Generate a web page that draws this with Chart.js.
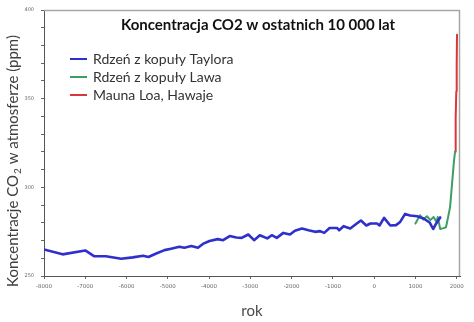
<!DOCTYPE html>
<html>
<head>
<meta charset="utf-8">
<script src="https://cdn.jsdelivr.net/npm/chart.js@4.4.1/dist/chart.umd.min.js"></script>
<style>
  body { margin: 0; background: #fff; }
  #wrap { width: 474px; height: 322px; }
</style>
</head>
<body>
<div id="wrap"><canvas id="co2Chart" width="474" height="322"></canvas></div>
<script>
// Taylor Dome ice core
let taylorYears = [-8000,-7550,-7000,-6780,-6500,-6130,-5850,-5600,-5470,-5280,-5080,-4920,-4720,-4600,-4430,-4270,-4150,-3990,-3790,-3660,-3500,-3340,-3210,-3050,-2910,-2770,-2590,-2480,-2360,-2200,-2040,-1920,-1750,-1590,-1430,-1310,-1210,-1080,-900,-850,-740,-580,-420,-320,-190,-90,70,130,240,390,530,630,750,870,1040,1200,1350,1430,1500,1600];
let taylorCO2 = [265.0,262.2,264.4,261.1,261.1,259.7,260.5,261.4,260.7,262.7,264.6,265.4,266.5,265.9,266.9,265.9,268.1,269.7,270.8,270.2,272.5,271.7,271.5,273.4,270.2,273.0,271.2,273.0,271.5,274.3,273.4,275.5,276.8,275.8,274.9,275.3,274.3,277.1,277.1,275.8,278.1,276.8,279.6,281.3,278.5,279.6,279.6,278.5,282.8,278.5,278.7,280.5,285.0,284.1,283.7,282.4,280.0,276.5,279.5,283.0];

// Law Dome ice core
let lawYears = [1000,1110,1190,1280,1360,1440,1510,1540,1600,1680,1740,1790,1840,1880,1935,1960];
let lawCO2 = [279.6,284.3,281.8,283.7,281.5,283.3,280.5,283.3,276.5,277.0,277.5,283.0,289.0,300.0,315.0,320.0];

// Mauna Loa, Hawaii
let maunaYears = [1959,1970,1980,1990,2000,2008];
let maunaCO2 = [320.0,326.0,339.0,354.0,369.0,386.0];

// axis ticks
let xTicks = [-8000,-7000,-6000,-5000,-4000,-3000,-2000,-1000,0,1000,2000];
let yTicks = [250,260,270,280,290,300,310,320,330,340,350,360,370,380,390,400];
let yLabelled = [250,300,350,400];

let seriesNames = ['Rdzeń z kopuły Taylora', 'Rdzeń z kopuły Lawa', 'Mauna Loa, Hawaje'];
let seriesColors = ['#2f2fcc', '#3f9d67', '#d9373a'];
let chartTitle = 'Koncentracja CO2 w ostatnich 10 000 lat';
let yTitleParts = ['Koncentracje CO', '2', ' w atmosferze (ppm)'];
let xTitle = 'rok';

function toPoints(xs, ys) {
  return xs.map(function (x, i) { return { x: x, y: ys[i] }; });
}

// frame, title, legend and rotated y title
let decor = {
  id: 'decor',
  afterDraw: function (chart) {
    let ctx = chart.ctx;
    let a = chart.chartArea;
    ctx.save();
    // light frame on top and right
    ctx.strokeStyle = '#a6a6a6';
    ctx.lineWidth = 1.5;
    ctx.beginPath();
    ctx.moveTo(a.left, a.top + 0.5);
    ctx.lineTo(a.right - 0.5, a.top + 0.5);
    ctx.lineTo(a.right - 0.5, a.bottom);
    ctx.stroke();

    // title
    ctx.fillStyle = '#111';
    ctx.font = 'bold 15px Lato';
    ctx.textAlign = 'center';
    ctx.textBaseline = 'middle';
    ctx.fillText(chartTitle, 258, 25);

    // legend
    ctx.font = '14px Lato';
    ctx.textAlign = 'left';
    chart.data.datasets.forEach(function (ds, i) {
      let y = 59 + i * 18;
      ctx.strokeStyle = ds.borderColor;
      ctx.lineWidth = 2;
      ctx.beginPath();
      ctx.moveTo(70, y);
      ctx.lineTo(87, y);
      ctx.stroke();
      ctx.fillStyle = '#333';
      ctx.fillText(ds.label, 93, y);
    });

    // y axis title with subscript
    ctx.translate(13, 161);
    ctx.rotate(-Math.PI / 2);
    ctx.fillStyle = '#404040';
    let big = '15px Lato', small = '10px Lato';
    ctx.font = big;
    let w0 = ctx.measureText(yTitleParts[0]).width;
    let w2 = ctx.measureText(yTitleParts[2]).width;
    ctx.font = small;
    let w1 = ctx.measureText(yTitleParts[1]).width + 1;
    let x = -(w0 + w1 + w2) / 2;
    ctx.font = big;
    ctx.fillText(yTitleParts[0], x, 0);
    ctx.font = small;
    ctx.fillText(yTitleParts[1], x + w0 + 1, 5);
    ctx.font = big;
    ctx.fillText(yTitleParts[2], x + w0 + w1, 0);
    ctx.restore();
  }
};

let lineCommon = { fill: false, tension: 0, pointRadius: 0, borderJoinStyle: 'round', borderCapStyle: 'round' };

let myChart = new Chart(document.getElementById('co2Chart'), {
  type: 'line',
  data: {
    datasets: [
      Object.assign({ label: seriesNames[0], data: toPoints(taylorYears, taylorCO2), borderColor: seriesColors[0], borderWidth: 2.6 }, lineCommon),
      Object.assign({ label: seriesNames[1], data: toPoints(lawYears, lawCO2), borderColor: seriesColors[1], borderWidth: 2 }, lineCommon),
      Object.assign({ label: seriesNames[2], data: toPoints(maunaYears, maunaCO2), borderColor: seriesColors[2], borderWidth: 2 }, lineCommon)
    ]
  },
  options: {
    responsive: false,
    animation: false,
    layout: { padding: { top: 9, right: 14, left: 0, bottom: 0 } },
    plugins: { legend: { display: false }, tooltip: { enabled: false } },
    scales: {
      x: {
        type: 'linear',
        min: -8000,
        max: 2080,
        afterFit: function (s) { s.height = 46; },
        afterBuildTicks: function (s) { s.ticks = xTicks.map(function (v) { return { value: v }; }); },
        border: { display: true, color: '#555', width: 1 },
        grid: { drawOnChartArea: false, tickLength: 3, color: '#666' },
        ticks: {
          maxRotation: 0,
          autoSkip: false,
          padding: 4,
          color: '#6a6a6a',
          font: { family: 'DejaVu Sans', size: 5.5 },
          callback: function (v) { return String(v); }
        },
        title: {
          display: true,
          text: xTitle,
          color: '#4a4a4a',
          font: { family: 'Lato', size: 15 },
          padding: { top: 0, bottom: 2 }
        }
      },
      y: {
        min: 250,
        max: 400,
        afterFit: function (s) { s.width = 44; },
        afterBuildTicks: function (s) { s.ticks = yTicks.map(function (v) { return { value: v }; }); },
        border: { display: true, color: '#555', width: 1 },
        grid: { drawOnChartArea: false, tickLength: 3, color: '#666' },
        ticks: {
          autoSkip: false,
          padding: 7,
          color: '#6a6a6a',
          font: { family: 'DejaVu Sans', size: 5 },
          callback: function (v) { return yLabelled.indexOf(v) >= 0 ? String(v) : ''; }
        }
      }
    }
  },
  plugins: [decor]
});
</script>
</body>
</html>
